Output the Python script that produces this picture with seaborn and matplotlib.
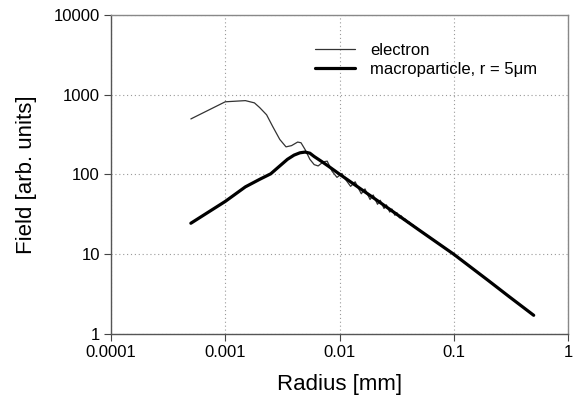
import matplotlib
matplotlib.use("Agg")
import matplotlib.pyplot as plt
import seaborn as sns
import pandas as pd

# ---- data ----
electron_r = [0.0005, 0.001, 0.0015, 0.0018, 0.002, 0.0023, 0.0026, 0.003, 0.0034,
              0.0038, 0.0043, 0.0046, 0.005, 0.0055, 0.006, 0.0065, 0.0072, 0.0078,
              0.0086, 0.0095, 0.0105, 0.0112, 0.0125, 0.0137, 0.0144, 0.0155, 0.0167,
              0.0174, 0.0185, 0.0197, 0.0204, 0.0215, 0.0227, 0.0234, 0.0245, 0.0257,
              0.0264, 0.0275, 0.0287, 0.0294, 0.0305, 0.0317, 0.0335, 0.0347, 0.0365,
              0.0377, 0.0395, 0.0407, 0.0425, 0.0437, 0.0455, 0.0467, 0.05, 0.1, 0.2,
              0.3, 0.5]
electron_field = [497, 815, 843, 790, 690, 560, 400, 275, 222,
                  230, 255, 250, 205, 155, 133, 128, 144, 147,
                  110, 92, 103, 88, 71, 81, 70, 57.4, 66,
                  58, 48.6, 55.4, 49.5, 42.3, 47.6, 43.2, 37.5, 41.7,
                  38.3, 33.8, 37.0, 34.4, 30.8, 33.3, 28.6, 30.3, 26.6,
                  27.6, 24.8, 25.4, 23.3, 23.6, 21.9, 21.8, 20.2, 10.1, 4.7,
                  3.0, 1.72]

macro_r = [0.0005, 0.001, 0.0015, 0.002, 0.0025, 0.003, 0.0035, 0.004, 0.0045,
           0.005, 0.0055, 0.006, 0.007, 0.008, 0.01, 0.02, 0.05, 0.1, 0.2, 0.3, 0.5]
macro_field = [24.5, 46, 70, 87, 102, 128, 155, 175, 187,
               191, 185, 168, 145, 127, 101, 50.5, 20, 10, 4.7, 3.0, 1.72]

x_ticks = [0.0001, 0.001, 0.01, 0.1, 1]
x_tick_labels = ["0.0001", "0.001", "0.01", "0.1", "1"]
y_ticks = [1, 10, 100, 1000, 10000]
y_tick_labels = ["1", "10", "100", "1000", "10000"]

label_electron = "electron"
label_macro = "macroparticle, r = 5\u03bcm"

df = pd.concat([
    pd.DataFrame({"r": electron_r, "field": electron_field, "series": label_electron}),
    pd.DataFrame({"r": macro_r, "field": macro_field, "series": label_macro}),
], ignore_index=True)

sns.set_style("white")
plt.rcParams["font.family"] = ["Liberation Sans", "DejaVu Sans"]
plt.rcParams["text.color"] = "black"
plt.rcParams["axes.labelcolor"] = "black"
plt.rcParams["xtick.color"] = "black"
plt.rcParams["ytick.color"] = "black"

fig = plt.figure(figsize=(5.75, 4.03), dpi=100)
ax = fig.add_axes([0.193, 0.171, 0.795, 0.792])

sns.lineplot(data=df, x="r", y="field", hue="series", size="series",
             palette={label_electron: "#333333", label_macro: "#000000"},
             sizes={label_electron: 0.9, label_macro: 2.3},
             sort=False, estimator=None, ax=ax)

ax.set_xscale("log")
ax.set_yscale("log")
ax.set_xlim(0.0001, 1)
ax.set_ylim(1, 10000)
ax.set_xticks(x_ticks)
ax.set_xticklabels(x_tick_labels)
ax.set_yticks(y_ticks)
ax.set_yticklabels(y_tick_labels)
ax.minorticks_off()
ax.tick_params(axis="both", which="major", labelsize=12, direction="out",
               length=5, width=0.8, color="#444444", pad=3,
               bottom=True, left=True, labelcolor="black")
ax.grid(True, which="major", linestyle=(0, (1, 2.5)), color="#999999", linewidth=0.8)
for s in ax.spines.values():
    s.set_color("#555555")
    s.set_linewidth(1.0)
ax.spines["top"].set_color("#888888")
ax.spines["right"].set_color("#888888")

ax.set_xlabel("Radius [mm]", fontsize=16, labelpad=10, color="black")
ax.set_ylabel("Field [arb. units]", fontsize=16, labelpad=12, color="black")

leg = ax.legend(loc="upper right", bbox_to_anchor=(0.965, 0.96), frameon=False,
                fontsize=12, handlelength=2.4, handletextpad=0.9, labelspacing=0.25)
for t in leg.get_texts():
    t.set_color("black")

fig.savefig("out.png", dpi=100)
